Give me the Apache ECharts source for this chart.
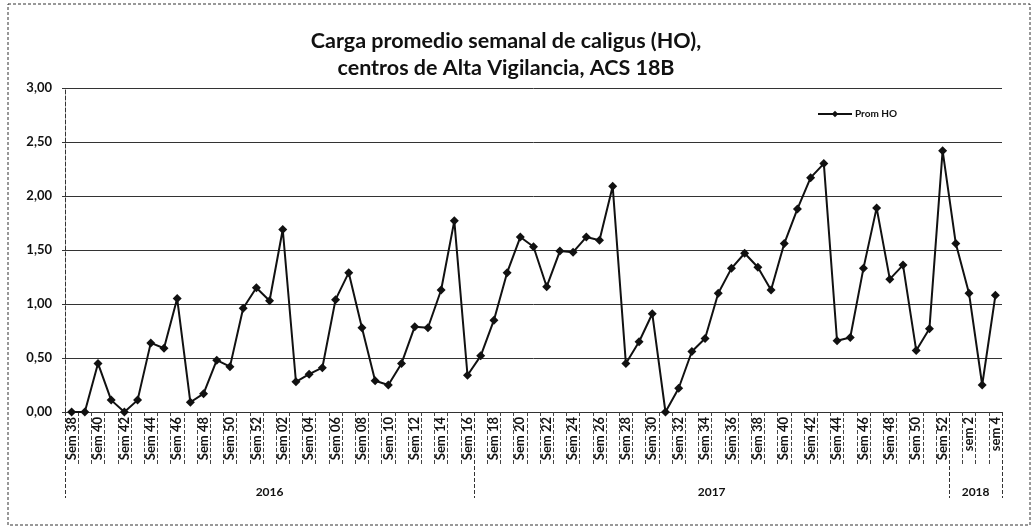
<!DOCTYPE html>
<html><head><meta charset="utf-8">
<script src="https://cdn.jsdelivr.net/npm/echarts@6/dist/echarts.min.js"></script>
<style>html,body{margin:0;padding:0;background:#fff}#c{width:1035px;height:530px}</style>
</head><body><div id="c"></div>
<script>
const categories = [
 'Sem 38','Sem 39','Sem 40','Sem 41','Sem 42','Sem 43','Sem 44','Sem 45','Sem 46','Sem 47','Sem 48','Sem 49','Sem 50','Sem 51','Sem 52',
 'Sem 01','Sem 02','Sem 03','Sem 04','Sem 05','Sem 06','Sem 07','Sem 08','Sem 09','Sem 10','Sem 11','Sem 12','Sem 13','Sem 14','Sem 15','Sem 16',
 'Sem 17','Sem 18','Sem 19','Sem 20','Sem 21','Sem 22','Sem 23','Sem 24','Sem 25','Sem 26','Sem 27','Sem 28','Sem 29','Sem 30','Sem 31','Sem 32',
 'Sem 33','Sem 34','Sem 35','Sem 36','Sem 37','Sem 38','Sem 39','Sem 40','Sem 41','Sem 42','Sem 43','Sem 44','Sem 45','Sem 46','Sem 47','Sem 48',
 'Sem 49','Sem 50','Sem 51','Sem 52','sem 1','sem 2','sem 3','sem 4'
];
const promHO = [
 0.00,0.00,0.45,0.11,0.00,0.11,0.64,0.59,1.05,0.09,0.17,0.48,0.42,0.96,1.15,
 1.03,1.69,0.28,0.35,0.41,1.04,1.29,0.78,0.29,0.25,0.45,0.79,0.78,1.13,1.77,0.34,
 0.52,0.85,1.29,1.62,1.53,1.16,1.49,1.48,1.62,1.59,2.09,0.45,0.65,0.91,0.00,0.22,
 0.56,0.68,1.10,1.33,1.47,1.34,1.13,1.56,1.88,2.17,2.30,0.66,0.69,1.33,1.89,1.23,
 1.36,0.57,0.77,2.42,1.56,1.10,0.25,1.08
];
const years = ['2016','2017','2018'];
const yearStart = [0, 31, 67];
const yearEnd = [31, 67, 71];
const seriesName = 'Prom HO';
const titleText = 'Carga promedio semanal de caligus (HO),\ncentros de Alta Vigilancia, ACS 18B';

const yearBounds = [0].concat(yearEnd);
const yearCenters = years.map((y,i)=> (yearStart[i]+yearEnd[i])/2);

const chart = echarts.init(document.getElementById('c'), null, {renderer:'canvas'});
const gridRect = {left:65, right:33, top:88, bottom:118};
chart.setOption({
  backgroundColor:'#fff',
  animation:false,
  title:{text:titleText, left:501, textAlign:'center', top:23,
    textStyle:{fontFamily:'Lato', fontWeight:'bold', fontSize:21.5, color:'#111', lineHeight:27, align:'center'}},
  legend:{data:[seriesName], left:812, top:104, itemWidth:34, itemHeight:8, itemGap:2,
    textStyle:{fontFamily:'Lato', fontWeight:'bold', fontSize:10, color:'#111', padding:[0,0,0,-2]}},
  graphic:[{type:'rect', shape:{x:8,y:4,width:1022,height:521},
    style:{fill:null, stroke:'#333', lineWidth:1, lineDash:[3,2]}, silent:true, z:-1}],
  grid:[Object.assign({}, gridRect), Object.assign({}, gridRect)],
  xAxis:[{
    type:'category', data:categories, boundaryGap:true, gridIndex:0,
    axisLine:{show:true, lineStyle:{color:'#333', type:'dotted', width:1}},
    axisTick:{show:true, interval:0, length:53, lineStyle:{color:'#444', type:'dashed', width:1}},
    axisLabel:{interval:1, rotate:90, margin:5, fontFamily:'Lato', fontWeight:'bold', fontSize:13, color:'#111'},
    splitLine:{show:false}
  },{
    type:'value', gridIndex:1, min:0, max:71, position:'bottom',
    axisLine:{show:false},
    axisTick:{show:true, customValues:yearBounds, length:86, lineStyle:{color:'#333', type:'dashed', width:1}},
    axisLabel:{show:true, customValues:yearCenters, margin:74, fontFamily:'Lato', fontWeight:'bold', fontSize:12, color:'#111',
      formatter:function(v){const i=yearCenters.indexOf(v); return i>=0?years[i]:'';}},
    splitLine:{show:false}
  }],
  yAxis:[{
    type:'value', min:0, max:3, interval:0.5, gridIndex:0,
    axisLine:{show:true, lineStyle:{color:'#333', type:'dashed', width:1}},
    axisTick:{show:true, length:3, lineStyle:{color:'#333'}},
    axisLabel:{margin:13, fontFamily:'Lato', fontWeight:'bold', fontSize:13, color:'#111',
      formatter:function(v){return v.toFixed(2).replace('.',',');}},
    splitLine:{show:true, lineStyle:{color:'#333', width:1, type:'solid'}}
  },{
    type:'value', min:0, max:3, gridIndex:1, show:false
  }],
  series:[{
    name:seriesName, type:'line', data:promHO, xAxisIndex:0, yAxisIndex:0,
    symbol:'diamond', symbolSize:9, showAllSymbol:true,
    lineStyle:{color:'#111', width:2}, itemStyle:{color:'#111'}
  }]
});
</script></body></html>
